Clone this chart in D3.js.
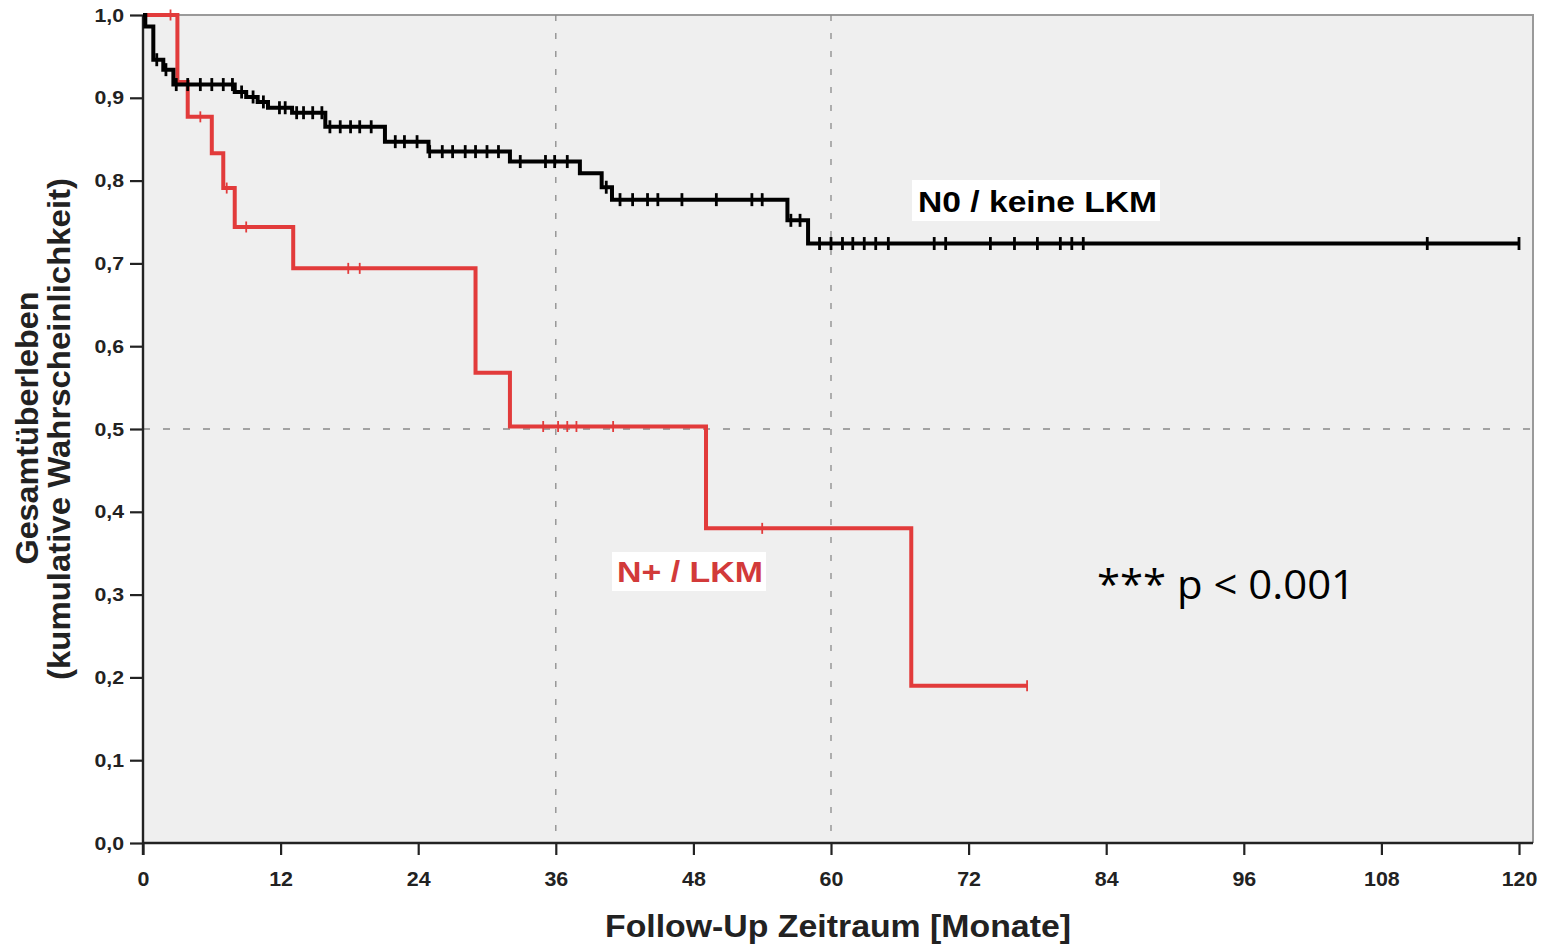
<!DOCTYPE html>
<html><head><meta charset="utf-8">
<script src="https://cdn.jsdelivr.net/npm/d3@7"></script>
<style>body{margin:0;background:#fff;} svg{display:block;}</style>
</head><body>
<svg id="c" width="1544" height="945"></svg>
<script>
// ---- data ----
const xTicks = [0,12,24,36,48,60,72,84,96,108,120];
const yTicks = [0,0.1,0.2,0.3,0.4,0.5,0.6,0.7,0.8,0.9,1.0];
const yTickLabels = ["0,0","0,1","0,2","0,3","0,4","0,5","0,6","0,7","0,8","0,9","1,0"];

// N0 / keine LKM : step times and survival after each step
const n0Times = [0, 0.2, 0.9, 1.77, 2.65, 8.0, 9.0, 10.0, 10.9, 13.0, 15.9, 21.1, 24.9, 32.0, 38.1, 40.0, 40.9, 56.2, 58.0, 120];
const n0Surv  = [1.0, 0.986, 0.946, 0.934, 0.916, 0.907, 0.901, 0.895, 0.888, 0.882, 0.865, 0.847, 0.835, 0.823, 0.809, 0.792, 0.777, 0.752, 0.724, 0.724];
const n0Censor = [1.2, 2.0, 2.9, 3.9, 5.0, 6.0, 7.0, 7.8, 8.6, 9.6, 10.5, 11.9, 12.4, 13.4, 14.0, 14.8, 15.6,
  16.3, 17.2, 18.1, 18.9, 19.9, 22.0, 22.8, 23.9, 25.0, 26.1, 27.0, 28.1, 29.0, 30.0, 31.0,
  32.9, 35.1, 35.9, 37.0, 40.4, 41.6, 42.7, 44.0, 44.9, 47.0, 50.0, 53.1, 54.0, 56.5, 57.3,
  59.0, 60.0, 61.0, 61.9, 62.9, 63.9, 65.0, 69.0, 70.0, 73.9, 76.0, 78.0, 80.0, 81.0, 82.0, 112.0, 120.0];

// N+ / LKM
const npTimes = [0, 3.0, 3.9, 6.0, 7.0, 8.0, 13.1, 29.0, 32.0, 49.1, 67.0, 77.1];
const npSurv  = [1.0, 0.919, 0.877, 0.833, 0.791, 0.744, 0.694, 0.568, 0.503, 0.380, 0.190, 0.190];
const npCensor = [2.4, 5.0, 7.3, 9.0, 17.9, 18.9, 34.9, 36.2, 37.0, 37.8, 41.0, 54.0, 77.1];

const refLines = {x:[36,60], y:[0.5]};

// ---- drawing ----
const svg = d3.select("#c");
const L = 143, R = 1519, T = 15, B = 843, plotRight = 1533;
const x = d3.scaleLinear().domain([0,120]).range([L,R]);
const y = d3.scaleLinear().domain([0,1]).range([B,T]);

svg.append("rect").attr("x",L).attr("y",T).attr("width",plotRight-L).attr("height",B-T).attr("fill","#efefef");
svg.append("path").attr("d",`M${L},${T}H${plotRight}V${B}`).attr("fill","none").attr("stroke","#9a9a9a").attr("stroke-width",2);

refLines.x.forEach(v=>svg.append("line").attr("x1",x(v)).attr("x2",x(v)).attr("y1",T).attr("y2",B)
  .attr("stroke","#8a8a8a").attr("stroke-width",1.3).attr("stroke-dasharray","6,12"));
refLines.y.forEach(v=>svg.append("line").attr("x1",L).attr("x2",plotRight).attr("y1",y(v)).attr("y2",y(v))
  .attr("stroke","#8a8a8a").attr("stroke-width",1.3).attr("stroke-dasharray","7,13"));

function stretch(sel, f){ sel.each(function(){ const w=this.getComputedTextLength(); d3.select(this).attr("textLength",w*f).attr("lengthAdjust","spacingAndGlyphs");}); }
const FONT = "'Liberation Sans',Arial,sans-serif";

// axes
const xAxis = d3.axisBottom(x).tickValues(xTicks).tickSize(12).tickPadding(18).tickFormat(d3.format("d"));
const gx = svg.append("g").attr("transform",`translate(0,${B})`).call(xAxis);
gx.select(".domain").attr("d",`M${L},0H${plotRight}`).attr("stroke","#222").attr("stroke-width",2.4);
gx.selectAll(".tick line").attr("stroke","#222").attr("stroke-width",2.2);
gx.selectAll(".tick text").attr("font-family",FONT).attr("font-weight","bold")
  .attr("font-size",21).attr("fill","#222").attr("dy","0.62em");
stretch(gx.selectAll(".tick text"),1.02);

const yAxis = d3.axisLeft(y).tickValues(yTicks).tickSize(13).tickPadding(6).tickFormat((d,i)=>yTickLabels[i]);
const gy = svg.append("g").attr("transform",`translate(${L},0)`).call(yAxis);
gy.select(".domain").attr("d",`M0,${T}V${B+12}`).attr("stroke","#222").attr("stroke-width",2.4);
gy.selectAll(".tick line").attr("stroke","#222").attr("stroke-width",2.2);
gy.selectAll(".tick text").attr("font-family",FONT).attr("font-weight","bold")
  .attr("font-size",19).attr("fill","#222");
stretch(gy.selectAll(".tick text"),1.12);

// curves
const line = d3.line().x(d=>x(d[0])).y(d=>y(d[1])).curve(d3.curveStepAfter);
function survAt(times, surv, t){ let s=surv[0]; for(let i=0;i<times.length;i++){ if(times[i]<=t) s=surv[i]; } return s; }

function drawCurve(times, surv, censor, color, w, tickW, tickH){
  const pts = times.map((t,i)=>[t,surv[i]]);
  svg.append("path").attr("d",line(pts)).attr("fill","none").attr("stroke",color).attr("stroke-width",w)
    .attr("stroke-linejoin","miter").attr("stroke-linecap","butt");
  svg.append("g").selectAll("line").data(censor).join("line")
    .attr("x1",d=>x(d)).attr("x2",d=>x(d))
    .attr("y1",d=>y(survAt(times,surv,d))-tickH).attr("y2",d=>y(survAt(times,surv,d))+tickH)
    .attr("stroke",color).attr("stroke-width",tickW);
}
drawCurve(npTimes, npSurv, npCensor, "#e23b3b", 4, 1.8, 5.5);
drawCurve(n0Times, n0Surv, n0Censor, "#000", 4, 2.8, 6.5);

// labels
svg.append("rect").attr("x",912).attr("y",180).attr("width",248).attr("height",41).attr("fill","#fff");
svg.append("text").attr("x",918).attr("y",212).attr("font-family",FONT)
  .attr("font-weight","bold").attr("font-size",29).attr("fill","#000")
  .attr("textLength",239).attr("lengthAdjust","spacingAndGlyphs").text("N0 / keine LKM");

svg.append("rect").attr("x",612).attr("y",552).attr("width",154).attr("height",39).attr("fill","#fff");
svg.append("text").attr("x",617).attr("y",582).attr("font-family",FONT)
  .attr("font-weight","bold").attr("font-size",29).attr("fill","#d23a3a")
  .attr("textLength",146).attr("lengthAdjust","spacingAndGlyphs").text("N+ / LKM");

svg.append("text").attr("x",1097).attr("y",599).attr("font-family","'Open Sans','Noto Sans',sans-serif")
  .attr("font-size",40).attr("fill","#000")
  .attr("textLength",258).attr("lengthAdjust","spacingAndGlyphs").text("*** p < 0.001");

// axis titles
svg.append("text").attr("x",838).attr("y",937).attr("text-anchor","middle")
  .attr("font-family",FONT).attr("font-weight","bold").attr("font-size",31).attr("fill","#222")
  .attr("textLength",466).attr("lengthAdjust","spacingAndGlyphs").text("Follow-Up Zeitraum [Monate]");

svg.append("text").attr("transform","translate(38,428) rotate(-90)").attr("text-anchor","middle")
  .attr("font-family",FONT).attr("font-weight","bold").attr("font-size",31).attr("fill","#222")
  .attr("textLength",273).attr("lengthAdjust","spacingAndGlyphs").text("Gesamtüberleben");
svg.append("text").attr("transform","translate(70,429) rotate(-90)").attr("text-anchor","middle")
  .attr("font-family",FONT).attr("font-weight","bold").attr("font-size",31).attr("fill","#222")
  .attr("textLength",502).attr("lengthAdjust","spacingAndGlyphs").text("(kumulative Wahrscheinlichkeit)");
</script>
</body></html>
